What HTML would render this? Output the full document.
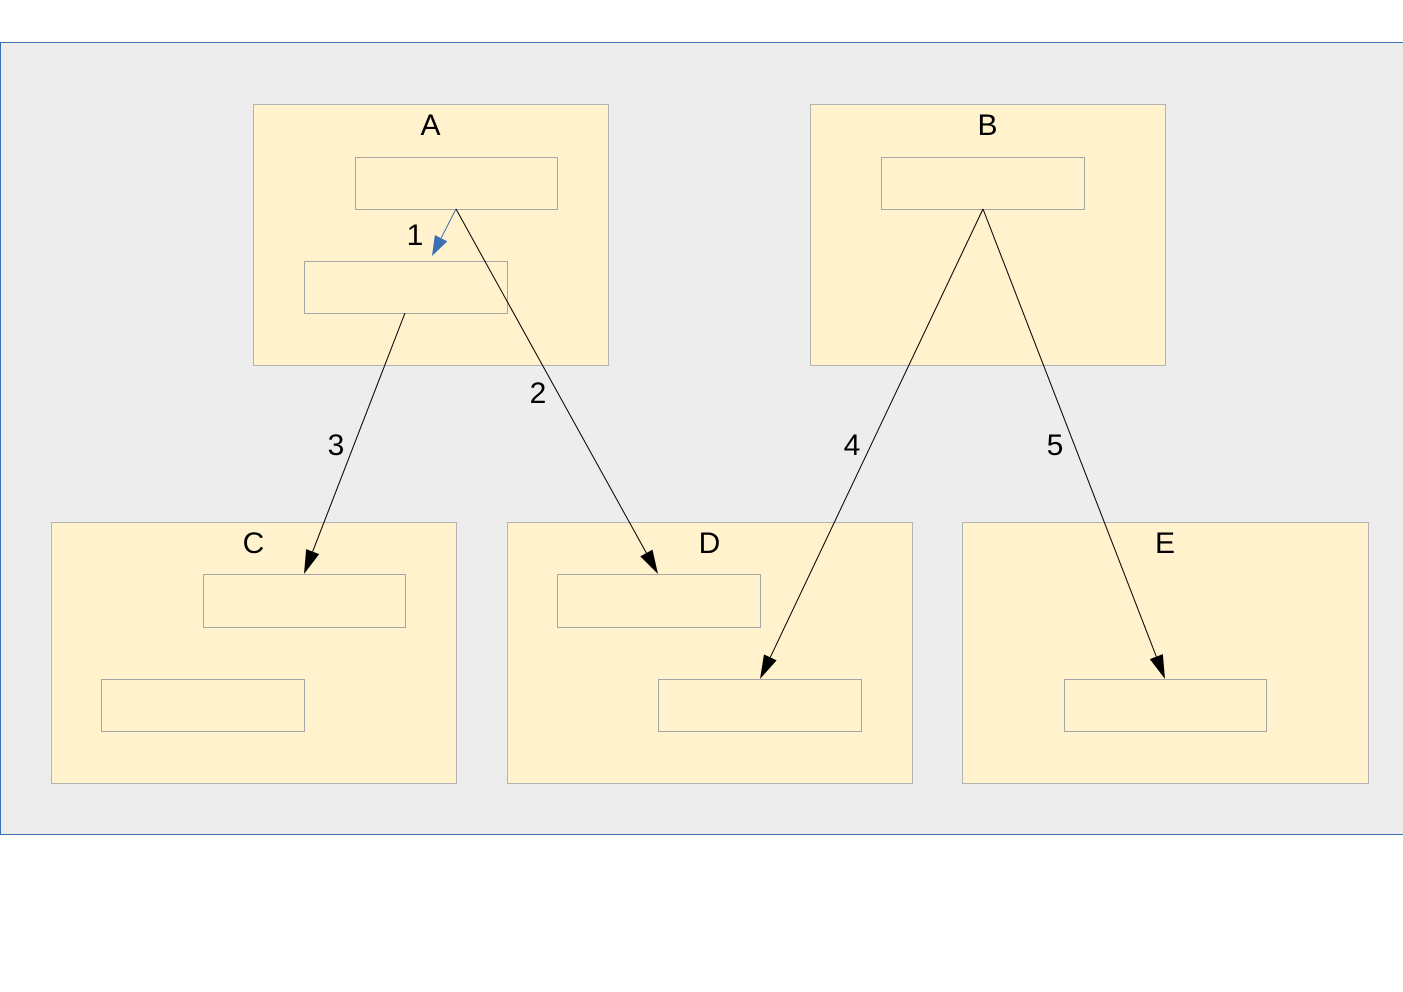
<!DOCTYPE html>
<html>
<head>
<meta charset="utf-8">
<style>
html,body{margin:0;padding:0;background:#fff;}
svg{display:block;}
text{font-family:"Liberation Sans",sans-serif;font-size:30px;fill:#000;}
</style>
</head>
<body>
<svg id="diagram" width="1403" height="992" viewBox="0 0 1403 992" xmlns="http://www.w3.org/2000/svg">
<defs>
<marker id="ah" viewBox="0 0 10 10" refX="10" refY="5" markerWidth="10" markerHeight="10" markerUnits="userSpaceOnUse" orient="auto"><path d="M0,0 L10,5 L0,10 z" fill="#000"/></marker>
</defs>
<rect x="0.5" y="42.5" width="1410" height="792" fill="#ededed" stroke="#3b6fb6" stroke-width="1"/>
<g id="layer"></g>
</svg>
<script>
const outerBoxes = [
  ["A",253,104,355,261],["B",810,104,355,261],["C",51,522,405,261],["D",507,522,405,261],["E",962,522,406,261]
];
const innerBoxes = [
  [355,157,202,52],[304,261,203,52],[881,157,203,52],[203,574,202,53],[101,679,203,52],[557,574,203,53],[658,679,203,52],[1064,679,202,52]
];
const arrows = [
  ["1",456,209,432,256],["2",456,209,658,574],["3",405,313,304,574],["4",983,209,760,679],["5",983,209,1165,679]
];
const edgeLabels = [["1",415,245],["2",538,403],["3",336,455],["4",852,455],["5",1055,455]];
const NS="http://www.w3.org/2000/svg";
const layer=document.getElementById('layer');
function mk(t,a){const e=document.createElementNS(NS,t);for(const k in a)e.setAttribute(k,a[k]);layer.appendChild(e);return e;}
outerBoxes.forEach(b=>{
  const r=mk('rect',{x:b[1]+0.5,y:b[2]+0.5,width:b[3],height:b[4],fill:'#fff2cc',stroke:'#b3b3b3'});
  
  
  const t=mk('text',{x:b[1]+b[3]/2,y:b[2]+31,'text-anchor':'middle'});
  t.textContent=b[0];
  
  
});
innerBoxes.forEach((b,i)=>{
  const r=mk('rect',{x:b[0]+0.5,y:b[1]+0.5,width:b[2],height:b[3],fill:'#fff2cc',stroke:'#a6a6a6'});
  
  
});
arrows.forEach(a=>{
  const blue=a[0]==="1";
  const dx=a[3]-a[1],dy=a[4]-a[2],L=Math.hypot(dx,dy),ux=dx/L,uy=dy/L;
  const hl=blue?20:24,hw=blue?7:7;
  const bx=a[3]-ux*hl,by=a[4]-uy*hl;
  const ln=mk('line',{x1:a[1],y1:a[2],x2:bx,y2:by,stroke:blue?'#3b6fb6':'#000','stroke-width':1});
  
  
  const p=mk('path',{d:`M${a[3]},${a[4]} L${bx-uy*hw},${by+ux*hw} L${bx+uy*hw},${by-ux*hw} Z`,fill:blue?'#3b6fb6':'#000'});
  
  
});
edgeLabels.forEach(l=>{
  const t=mk('text',{x:l[1],y:l[2],'text-anchor':'middle'});
  t.textContent=l[0];
  
  
});
</script>
</body>
</html>
